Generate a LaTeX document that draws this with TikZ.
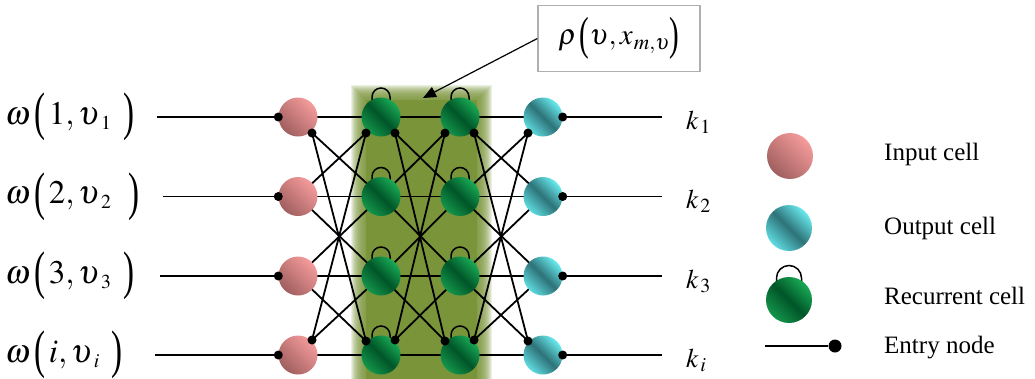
\documentclass[tikz,border=0pt]{standalone}
\usepackage{amsmath}
\usepackage{mathptmx}
\usepackage{fontspec}
\setmainfont{Liberation Serif}
\usetikzlibrary{calc,arrows.meta}
\definecolor{olivebg}{RGB}{122,148,58}
\definecolor{pinkhi}{RGB}{245,155,155}
\definecolor{pinklo}{RGB}{160,95,95}
\definecolor{cyanhi}{RGB}{105,235,238}
\definecolor{cyanhi2}{RGB}{95,220,225}
\definecolor{cyanlo}{RGB}{45,115,120}
\definecolor{greenhi}{RGB}{25,170,85}
\definecolor{greenhi2}{RGB}{20,150,75}
\definecolor{greenlo}{RGB}{0,85,40}
\definecolor{boxgray}{RGB}{175,175,175}
\newcommand{\tallL}[1]{\mathopen{\raisebox{-#1em}{\scalebox{1}[1.6]{(}}}}
\newcommand{\tallR}[1]{\mathclose{\raisebox{-#1em}{\scalebox{1}[1.6]{)}}}}
\begin{document}
\begin{tikzpicture}[x=1pt,y=-1pt,
  net/.style={line width=1.8pt,black},
  dotnode/.style={circle,fill=black,inner sep=0pt,minimum size=9pt},
  pinkball/.style={circle,inner sep=0pt,minimum size=39pt,top color=pinkhi,bottom color=pinklo,shading angle=-45},
  cyanball/.style={circle,inner sep=0pt,minimum size=39pt,top color=cyanhi,bottom color=cyanhi2,middle color=cyanlo,shading angle=-45},
  greenball/.style={circle,inner sep=0pt,minimum size=39pt,top color=greenhi,bottom color=greenhi2,middle color=greenlo,shading angle=-45},
  loopline/.style={line width=1.5pt,black},
  mathlab/.style={font=\fontsize{33}{36}\selectfont,anchor=west,inner sep=0pt},
  klab/.style={font=\fontsize{27}{32}\selectfont,anchor=base west,inner sep=0pt},
  legtext/.style={font=\fontsize{25}{30}\selectfont,anchor=base west,inner sep=0pt}
]
\useasboundingbox (0,0) rectangle (1035,378);

% blurred olive background
\foreach \k in {1,...,15}{
  \fill[olivebg,opacity=0.14] (366-\k,100-\k) rectangle (477+\k,380);
}
\fill[olivebg] (366,100) rectangle (477,380);

% rows and columns
\foreach \r/\y in {1/117,2/196.5,3/276,4/355}{
  \coordinate (p\r) at (298,\y);
  \coordinate (a\r) at (381,\y);
  \coordinate (b\r) at (460,\y);
  \coordinate (c\r) at (543,\y);
}
% connection points
\foreach \n in {p,a,b,c}{
  \coordinate (\n1o) at ($(\n1)+(14,16)$);
  \coordinate (\n1i) at ($(\n1)+(-15,16)$);
  \coordinate (\n4o) at ($(\n4)+(14,-15)$);
  \coordinate (\n4i) at ($(\n4)+(-15,-14)$);
  \coordinate (\n2o) at (\n2); \coordinate (\n2i) at (\n2);
  \coordinate (\n3o) at (\n3); \coordinate (\n3i) at (\n3);
}

% network connectors
\foreach \L/\R in {p/a,a/b,b/c}{
  \foreach \k in {1,2,3,4}{ \draw[net] (\L\k) -- (\R\k); }
  \draw[net] (\L1o) -- (\R2i);
  \draw[net] (\L2o) -- (\R1i);
  \draw[net] (\L3o) -- (\R4i);
  \draw[net] (\L4o) -- (\R3i);
  \draw[net] (\L1o) -- (\R4i);
  \draw[net] (\L4o) -- (\R1i);
  \draw[net] (\L2o) -- (\R3i);
  \draw[net] (\L3o) -- (\R2i);
}

% recurrent loops
\foreach \n in {a1,a2,a3,a4,b1,b2,b3,b4}{
  \draw[loopline] ($(\n)+(-9,-16)$) -- ++(0,-4) arc[start angle=180,end angle=0,radius=9pt] -- ++(0,4);
}

% cells
\foreach \r in {1,2,3,4}{
  \node[pinkball] (P\r) at (p\r) {};
  \node[greenball] (A\r) at (a\r) {};
  \node[greenball] (B\r) at (b\r) {};
  \node[cyanball] (C\r) at (c\r) {};
}

% input labels and entry lines
\node[mathlab] (l1) at (5,117) {$\omega\,\tallL{0.17}\,1,\upsilon_{\kern4pt\scriptscriptstyle 1}\ \,\tallR{0.17}$};
\node[mathlab] (l2) at (5,196.5) {$\omega\,\tallL{0.17}\,2,\upsilon_{\kern4pt\scriptscriptstyle 2}\ \ \tallR{0.17}$};
\node[mathlab] (l3) at (5,276) {$\omega\,\tallL{0.17}\,3,\upsilon_{\kern4pt\scriptscriptstyle 3}\ \,\tallR{0.17}$};
\node[mathlab] (l4) at (5,355) {$\omega\,\tallL{0.17}\,i,\upsilon_{\kern4pt\scriptscriptstyle i}\ \,\tallR{0.17}$};
\coordinate (e1) at (157,117);
\coordinate (e2) at (163,196.5);
\coordinate (e3) at (160,276);
\coordinate (e4) at (155,355);
\coordinate (o1) at (662,117);
\coordinate (o2) at (662,196.5);
\coordinate (o3) at (662,276);
\coordinate (o4) at (662,355);
\foreach \r in {1,2,3,4}{
  \draw[net] (e\r) -- (P\r.west);
  \draw[net] (C\r.east) -- (o\r);
  \node[dotnode] (dpi\r) at (P\r.west) {};
  \node[dotnode] (dco\r) at (C\r.east) {};
}

% dots on cross connections
\node[dotnode] (dp1) at (p1o) {};
\node[dotnode] (dp4) at (p4o) {};
\foreach \n in {a,b}{
  \node[dotnode] (d\n1i) at (\n1i) {};
  \node[dotnode] (d\n1o) at (\n1o) {};
  \node[dotnode] (d\n4i) at (\n4i) {};
  \node[dotnode] (d\n4o) at (\n4o) {};
}
\node[dotnode] (dc1) at (c1i) {};
\node[dotnode] (dc4) at (c4i) {};

% output labels
\node[klab] (k1) at (686,129) {$k_{\,1}$};
\node[klab] (k2) at (686,208.5) {$k_{\,2}$};
\node[klab] (k3) at (686,288) {$k_{\,3}$};
\node[klab] (k4) at (686,367) {$k_{\,i}$};

% rho box with arrow
\node[draw=boxgray,line width=1.3pt,minimum width=162pt,minimum height=66pt,inner sep=0pt] (rho) at (619,38.5) {};
\node[font=\fontsize{29}{31}\selectfont,inner sep=0pt] (rhotext) at (rho.center)
      {$\rho\,\tallL{0.17}\upsilon,x_{\kern1pt m,\upsilon}\tallR{0.17}$};
\coordinate (tip) at (423,98);
\draw[line width=1.2pt,-{Triangle[length=13pt,width=11pt]}] (rho.west) -- (tip);

% legend
\node[pinkball,minimum size=46pt] (LP) at (790,156) {};
\node[cyanball,minimum size=46pt] (LC) at (789,228) {};
\draw[loopline] (776.5,282) -- (776.5,278) arc[start angle=180,end angle=0,radius=12.5pt] -- (801.5,282);
\node[greenball,minimum size=46pt] (LG) at (789,300) {};
\coordinate (le) at (765,346);
\node[circle,fill=black,inner sep=0pt,minimum size=13pt] (LE) at (835,346) {};
\draw[net] (le) -- (LE);
\node[legtext] (t1) at (884,160) {Input cell};
\node[legtext] (t2) at (884,234) {Output cell};
\node[legtext] (t3) at (884,304) {Recurrent cell};
\node[legtext] (t4) at (884,353) {Entry node};
\end{tikzpicture}
\end{document}
